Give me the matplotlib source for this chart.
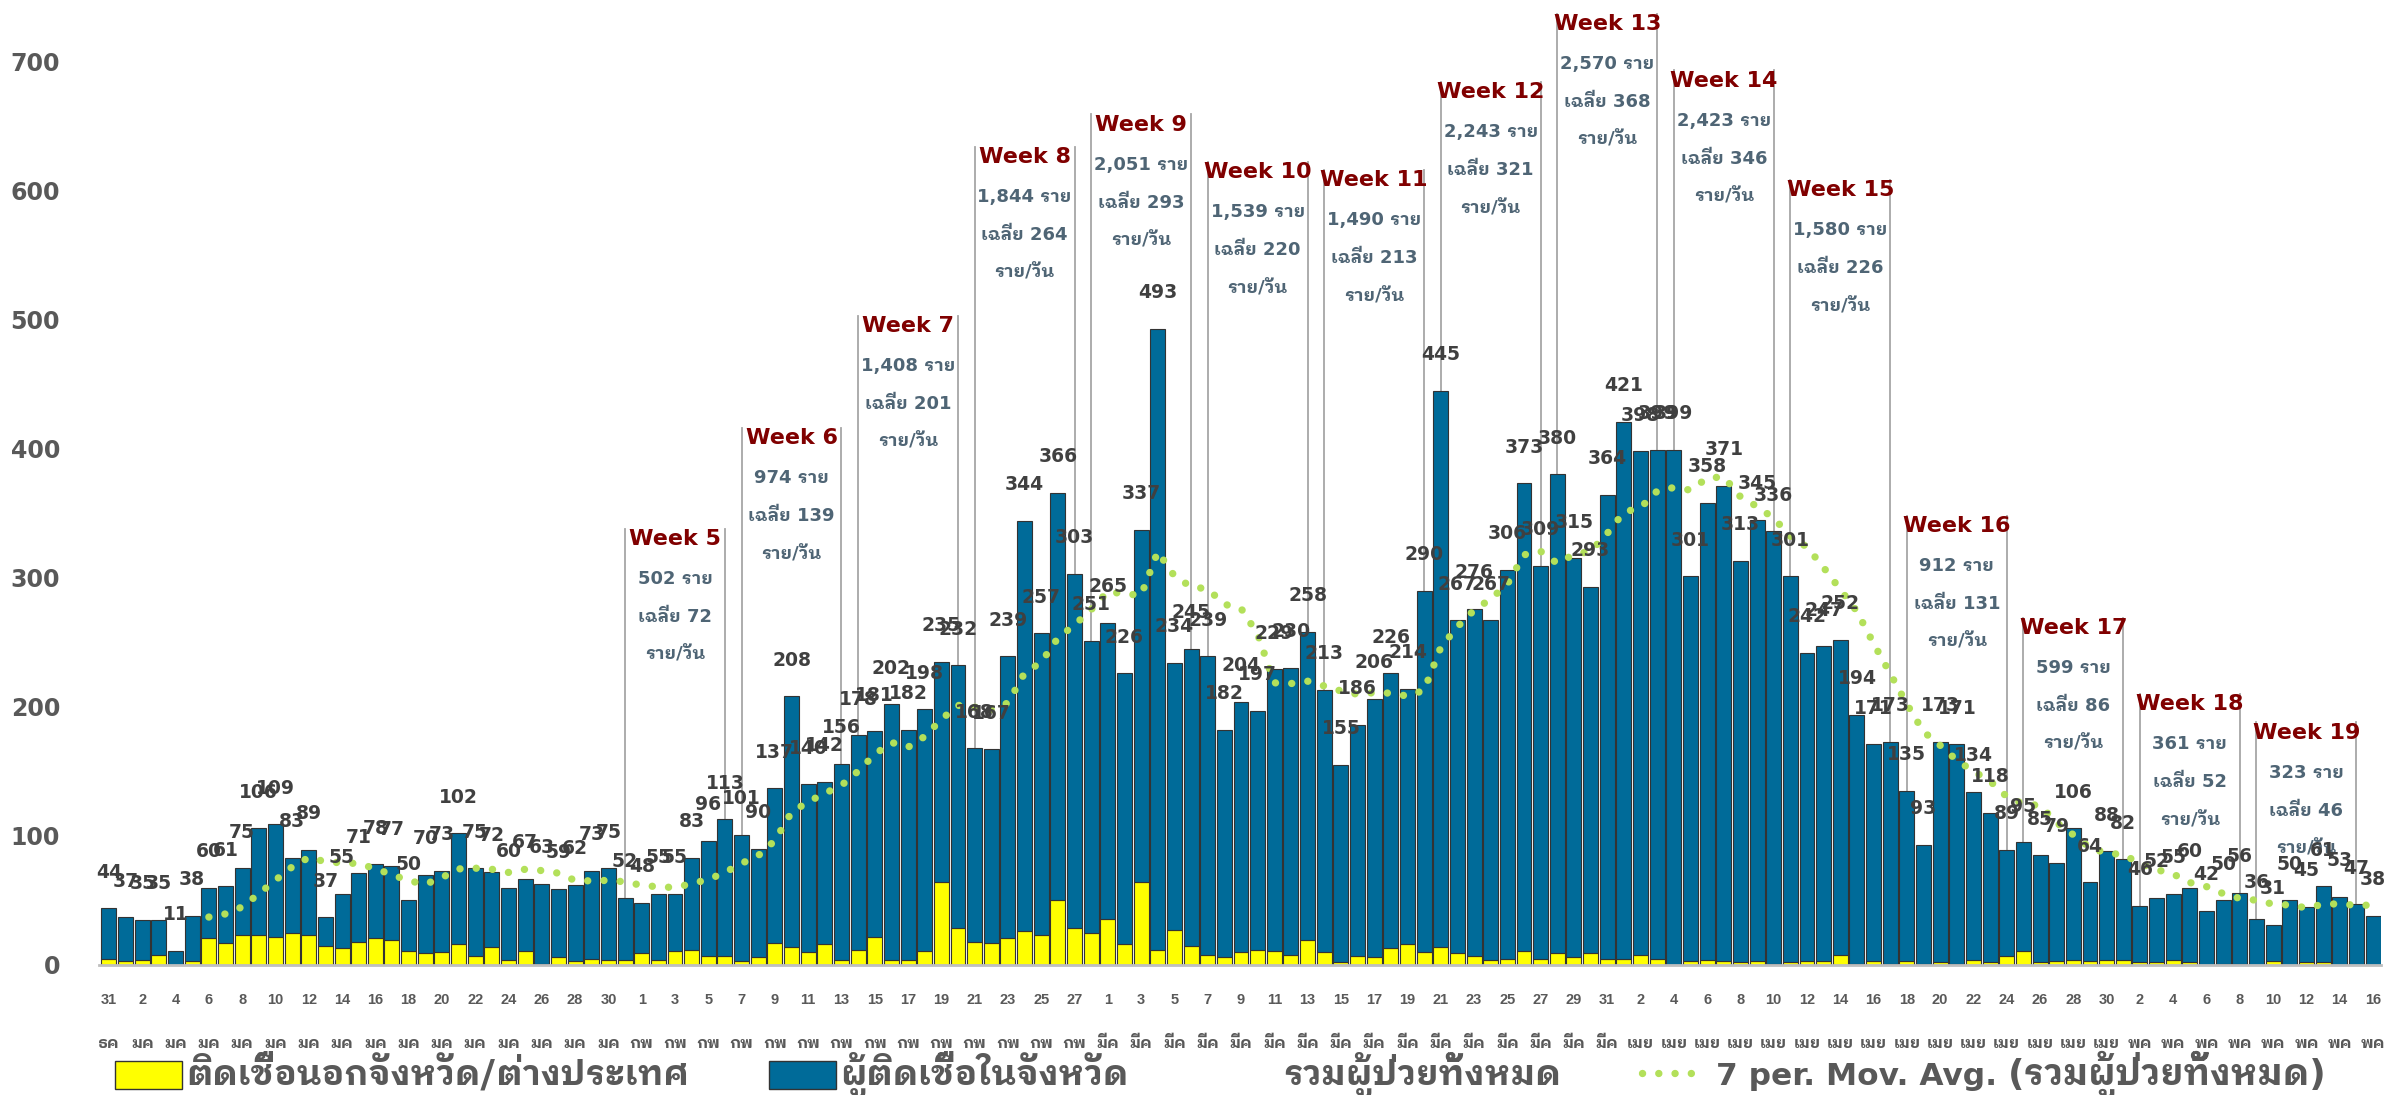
import matplotlib

matplotlib.use("Agg")
import matplotlib.pyplot as plt
import numpy as np
import pandas as pd
from matplotlib import font_manager
from matplotlib.ft2font import FT2Font
from matplotlib.lines import Line2D
from matplotlib.patches import Rectangle
from matplotlib.transforms import blended_transform_factory

# ---- data -------------------------------------------------------------
dates = pd.date_range("2020-12-31", "2021-05-16", freq="D")
thai_month = {12: "ธค", 1: "มค", 2: "กพ", 3: "มีค", 4: "เมย", 5: "พค"}

total = [
    44,
    37, 35, 35, 11, 38, 60, 61, 75, 106, 109, 83, 89, 37, 55, 71, 78, 77, 50, 70, 73,
    102, 75, 72, 60, 67, 63, 59, 62, 73, 75, 52,
    48, 55, 55, 83, 96, 113, 101, 90, 137, 208, 140, 142, 156, 178, 181, 202, 182, 198, 235, 232,
    168, 167, 239, 344, 257, 366, 303, 251,
    265, 226, 337, 493, 234, 245, 239, 182, 204, 197, 229, 230, 258, 213, 155, 186, 206, 226, 214, 290,
    445, 267, 276, 267, 306, 373, 309, 380, 315, 293, 364,
    421, 398, 399, 399, 301, 358, 371, 313, 345, 336, 301, 242, 247, 252, 194, 171, 173, 135, 93, 173,
    171, 134, 118, 89, 95, 85, 79, 106, 64, 88,
    82, 46, 52, 55, 60, 42, 50, 56, 36, 31, 50, 45, 61, 53, 47, 38,
]
outside = [
    5,
    3, 4, 8, 0, 3, 21, 17, 23, 23, 22, 25, 23, 15, 13, 18, 21, 19, 11, 9, 10,
    16, 7, 14, 4, 11, 1, 6, 3, 5, 4, 4,
    9, 4, 11, 12, 7, 7, 3, 6, 17, 14, 10, 16, 4, 12, 22, 4, 4, 11, 64, 29,
    18, 17, 21, 26, 23, 50, 29, 25,
    36, 16, 64, 12, 27, 15, 8, 6, 10, 12, 11, 8, 19, 10, 2, 7, 6, 13, 16, 10,
    14, 9, 7, 4, 5, 11, 5, 9, 6, 9, 5,
    5, 8, 5, 0, 3, 4, 3, 2, 3, 1, 2, 3, 3, 8, 1, 3, 1, 3, 1, 2,
    1, 4, 2, 7, 11, 2, 3, 4, 3, 4,
    4, 2, 2, 4, 2, 0, 1, 1, 0, 3, 0, 2, 2, 0, 0, 0,
]

week_no = list(range(5, 20))
week_start = pd.date_range("2021-01-31", periods=15, freq="7D")
week_total = ["502", "974", "1,408", "1,844", "2,051", "1,539", "1,490", "2,243",
              "2,570", "2,423", "1,580", "912", "599", "361", "323"]
week_avg = [72, 139, 201, 264, 293, 220, 213, 321, 368, 346, 226, 131, 86, 52, 46]
# vertical placement of each week callout title (value units)
week_title_y = [330, 408, 495, 626, 651, 614, 608, 676, 729, 685, 600, 340, 261, 202, 180]

legend_labels = ["ติดเชื้อนอกจังหวัด/ต่างประเทศ", "ผู้ติดเชื้อในจังหวัด",
                 "รวมผู้ป่วยทั้งหมด", "7 per. Mov. Avg. ", "(รวมผู้ป่วยทั้งหมด)"]


# ---- fonts ------------------------------------------------------------
def thai_font():
    found = []
    for f in font_manager.fontManager.ttflist:
        try:
            if 0x0E23 in FT2Font(f.fname).get_charmap():
                found.append(f.name)
        except Exception:
            continue
    found = sorted(set(found), key=lambda n: (0 if "Looped" in n else 1, 0 if "Thai" in n else 1, n))
    return found[0] if found else "DejaVu Sans"


THAI = thai_font()
plt.rcParams["font.family"] = ["DejaVu Sans", THAI]
LAT = ["Liberation Sans", THAI]

BLUE = "#006b99"
YELLOW = "#ffff00"
GREEN = "#b3e05a"
GRAY = "#595959"

total_np = np.asarray(total, dtype=float)
outside_np = np.asarray(outside, dtype=float)
inside_np = total_np - outside_np
mov_avg = pd.Series(total_np).rolling(7).mean()
x = np.arange(len(dates))

W, H = 2385, 1095
fig = plt.figure(figsize=(W / 100, H / 100), dpi=100)
ax = fig.add_axes([99 / W, 130 / H, (2381 - 99) / W, 965 / H])

ax.bar(x, outside_np, width=0.9, color=YELLOW, edgecolor="#333333", lw=0.8, zorder=2)
ax.bar(x, inside_np, bottom=outside_np, width=0.9, color=BLUE, edgecolor="#333333", lw=0.8, zorder=2)
ax.plot(x, mov_avg, color=GREEN, lw=5.3, ls=(0, (0.01, 2.2)), dash_capstyle="round", zorder=3)

for i, v in enumerate(total):
    ax.annotate(str(v), (i, v), xytext=(0, 26), textcoords="offset points", ha="center", va="center",
                fontsize=13.5, fontweight="bold", color="#404040", zorder=4)

# week callouts
for k, n in enumerate(week_no):
    s = dates.get_loc(week_start[k])
    e = s + 6
    ty = week_title_y[k]
    for j in (s, e):
        ax.plot([j, j], [ty + 8, total[j]], color="#a6a6a6", lw=1.3, zorder=1)
    cx = (s + e) / 2
    ax.text(cx, ty, f"Week {n}", ha="center", va="center", fontsize=16, fontweight="bold", color="#800000")
    lines = [f"{week_total[k]} ราย", f"เฉลี่ย {week_avg[k]}", "ราย/วัน"]
    for m, t in enumerate(lines):
        ax.text(cx, ty - 31 - 29.4 * m, t, ha="center", va="center", fontsize=13, fontweight="bold",
                color="#4f6575")

ax.set_xlim(-0.6, len(x) - 0.52)
ax.set_ylim(0, 747.5)
ax.set_yticks(np.arange(0, 800, 100))
ax.set_xticks([])
ax.tick_params(axis="y", length=0, pad=28, labelsize=17, labelcolor=GRAY)
for lab in ax.get_yticklabels():
    lab.set_fontweight("bold")
for side in ("top", "right", "left"):
    ax.spines[side].set_visible(False)
ax.spines["bottom"].set_color("#bfbfbf")
ax.spines["bottom"].set_linewidth(2)

# two-row date labels, every other day
tr = blended_transform_factory(ax.transData, fig.transFigure)
for i in range(0, len(dates), 2):
    d = dates[i]
    ax.text(i, (H - 1004) / H, str(d.day), transform=tr, ha="center", va="baseline", fontsize=10.5,
            fontweight="bold", color=GRAY, family=LAT)
    ax.text(i, (H - 1048) / H, thai_month[d.month], transform=tr, ha="center", va="baseline", fontsize=11.5,
            fontweight="bold", color=GRAY, family=[THAI])

# legend drawn along the bottom; Thai pieces fitted to the reference widths
renderer = fig.canvas.get_renderer()
base = (H - 1085) / H


def fit_text(x0, x1, s, family, size=22):
    t = fig.text(x0 / W, base, s, fontsize=size, fontweight="bold", color=GRAY, family=family, va="baseline")
    wpx = t.get_window_extent(renderer).width
    t.set_fontsize(size * (x1 - x0) / wpx)
    return t


for px, col in ((115, YELLOW), (769, BLUE)):
    fig.add_artist(Rectangle((px / W, (H - 1089) / H), 67 / W, 28 / H, transform=fig.transFigure,
                             facecolor=col, edgecolor="#333333", lw=1))
fit_text(186, 689, legend_labels[0], [THAI])
fit_text(840, 1129, legend_labels[1], [THAI])
fit_text(1283, 1561, legend_labels[2], [THAI])
fig.add_artist(Line2D([1642 / W, 1703 / W], [(H - 1073) / H] * 2, transform=fig.transFigure, color=GREEN,
                      lw=5.3, ls=(0, (0.01, 2.2)), dash_capstyle="round"))
t4 = fig.text(1716 / W, base, legend_labels[3], fontsize=22.5, fontweight="bold", color=GRAY,
              family=["DejaVu Sans"], va="baseline")
x4 = t4.get_window_extent(renderer).x1
fit_text(x4, 2326, legend_labels[4], ["DejaVu Sans", THAI])

fig.savefig("out.png", dpi=100)
